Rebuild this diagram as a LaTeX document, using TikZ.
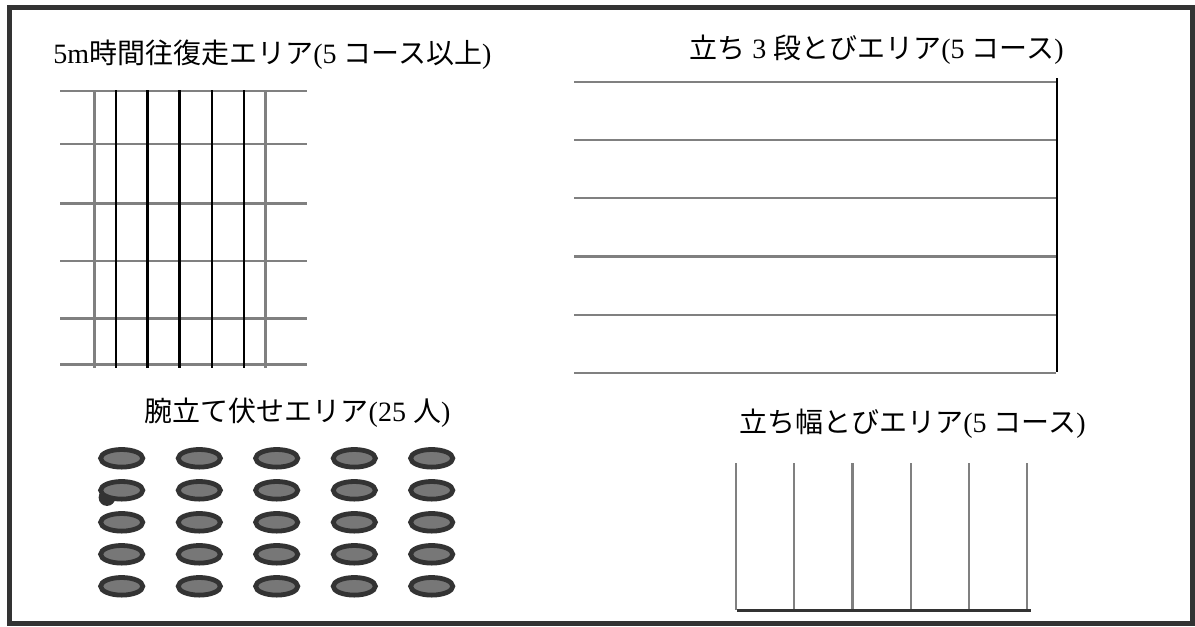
\documentclass[tikz,border=0pt]{standalone}
\usepackage{fontspec}
\setmainfont{Liberation Serif}
\newfontfamily\jp{Noto Sans CJK JP}
\definecolor{framec}{HTML}{333333}
\definecolor{linegrey}{HTML}{808080}
\definecolor{padfill}{HTML}{777777}
\begin{document}
\begin{tikzpicture}[x=0.75pt,y=-0.75pt,
  frame/.style={draw=framec,line width=3.4pt},
  hline/.style={draw=linegrey,line width=1.8pt},
  vdark/.style={draw=black,line width=1.8pt},
  vgrey/.style={draw=linegrey,line width=1.8pt},
  baseline/.style={draw=framec,line width=2.1pt},
  pad/.style={draw=framec,fill=padfill,line width=3.6pt},
  lbl/.style={inner sep=0pt,font=\fontsize{21pt}{25pt}\selectfont}]
\useasboundingbox (0,0) rectangle (1195,626);
\draw[frame] (9.5,7.5) rectangle (1192.5,623.5);
% labels
\node[lbl] (l1) at (272.5,55) {5m{\jp 時間往復走エリア}(5 {\jp コース以上})};
\node[lbl] (l2) at (297.5,413) {{\jp 腕立て伏せエリア}(25 {\jp 人})};
\node[lbl] (l3) at (876.5,50) {{\jp 立ち} 3 {\jp 段とびエリア}(5 {\jp コース})};
\node[lbl] (l4) at (912.5,424) {{\jp 立ち幅とびエリア}(5 {\jp コース})};
% 5m shuttle grid
\foreach \y in {90.7,144,203.3,260.7,318.3,364.3}
  \draw[hline] (60,\y) -- (306.7,\y);
\foreach \x in {94.3,265.3}
  \draw[vgrey] (\x,90) -- (\x,368);
\foreach \x in {115.7,147.3,179.3,211.7,243.7}
  \draw[vdark] (\x,90) -- (\x,368);
% push-up pads
\fill[framec] (107,497.5) circle (6.3pt);
\foreach \x in {121.7,199.3,276.7,354.3,431.7}
  \foreach \y in {458.3,490.3,522.3,554.3,586.3}
    \draw[pad] (\x,\y) ellipse [x radius=15.8pt, y radius=6.6pt];
% triple jump lanes
\foreach \y in {81.7,140,198.2,256.5,314.7,372.7}
  \draw[hline] (574,\y) -- (1056,\y);
\draw[vdark] (1056.7,78) -- (1056.7,372);
% standing broad jump lanes
\foreach \x in {736,794,852.3,910.7,968.7,1026.7}
  \draw[vgrey] (\x,463.3) -- (\x,610);
\draw[baseline] (737.3,610.7) -- (1030.7,610.7);
\end{tikzpicture}
\end{document}
